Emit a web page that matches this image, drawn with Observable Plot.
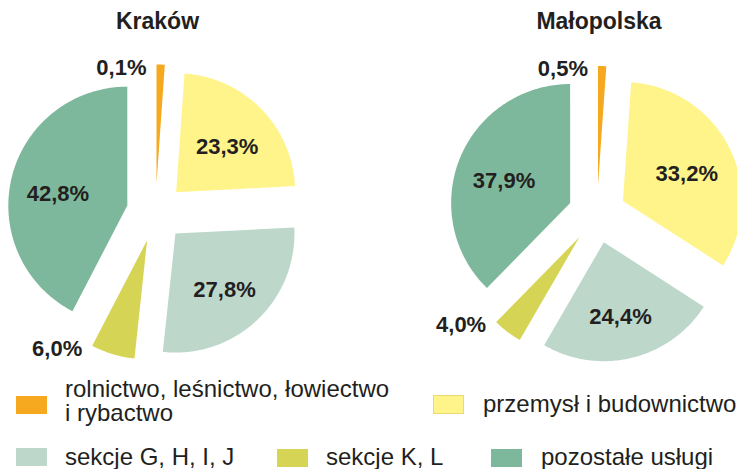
<!DOCTYPE html>
<html><head><meta charset="utf-8">
<script src="https://cdn.jsdelivr.net/npm/d3@7"></script>
<script src="https://cdn.jsdelivr.net/npm/@observablehq/plot@0.6"></script>
<style>
body{margin:0;background:#fff;font-family:"Liberation Sans",Arial,sans-serif;color:#231f20;}
#chart{width:737px;height:370px}
#legend{position:relative;width:737px;height:99px;font-size:24px;}
.sw{position:absolute;width:31px;height:18px;box-sizing:border-box}
.lt{position:absolute;line-height:24px;white-space:pre}
</style></head><body>
<div id="chart"></div>
<div id="legend"></div>
<script>
// ---- data ----
const regions = ["Kraków", "Małopolska"];
const categories = [
  "rolnictwo, leśnictwo, łowiectwo i rybactwo",
  "przemysł i budownictwo",
  "sekcje G, H, I, J",
  "sekcje K, L",
  "pozostałe usługi"
];
const legendLabels = [
  "rolnictwo, leśnictwo, łowiectwo\ni rybactwo",
  "przemysł i budownictwo",
  "sekcje G, H, I, J",
  "sekcje K, L",
  "pozostałe usługi"
];
const krakow = [0.1, 23.3, 27.8, 6.0, 42.8];
const malopolska = [0.5, 33.2, 24.4, 4.0, 37.9];
const colors = ["#f6a81e", "#fff48a", "#bdd7cb", "#d6d455", "#7eb89c"];

// ---- layout / style ----
const W = 737, H = 370;
const pieCenters = [[155, 212], [596.5, 213.5]];
const R = 119, EXPLODE = 29, MIN_ANGLE = 4 * Math.PI / 180, LABEL_R = 0.6 * R;
const titleY = 21;
const textColor = "#231f20";
const font = "Liberation Sans, Arial, Helvetica, sans-serif";

const series = [krakow, malopolska];
const rows = [], inLabels = [], outLabels = [], titles = [];
const fmt = v => v.toFixed(1).replace(".", ",") + "%";
const u = a => [Math.sin(a), -Math.cos(a)];

series.forEach((vals, r) => {
  const [cx, cy] = pieCenters[r];
  const total = d3.sum(vals);
  const raw = vals.map(v => v / total * 2 * Math.PI);
  const isSmall = raw.map(a => a < MIN_ANGLE);
  const fixed = d3.sum(raw, (a, i) => isSmall[i] ? MIN_ANGLE : 0);
  const restRaw = d3.sum(raw, (a, i) => isSmall[i] ? 0 : a);
  const ang = raw.map((a, i) => isSmall[i] ? MIN_ANGLE : a * (2 * Math.PI - fixed) / restRaw);
  let a0 = 0;
  vals.forEach((v, i) => {
    const a1 = a0 + ang[i];
    const mid = (a0 + a1) / 2;
    const [ux, uy] = u(mid);
    const vx = cx + EXPLODE * ux, vy = cy + EXPLODE * uy;
    const id = r + "-" + i;
    rows.push({id, cat: categories[i], x: vx, y: vy});
    const n = Math.max(2, Math.ceil((a1 - a0) / (Math.PI / 180)));
    for (let k = 0; k <= n; k++) {
      const a = a0 + (a1 - a0) * k / n;
      const [px, py] = u(a);
      rows.push({id, cat: categories[i], x: vx + R * px, y: vy + R * py});
    }
    if (v / total >= 0.1) {
      inLabels.push({x: vx + LABEL_R * ux, y: vy + LABEL_R * uy, text: fmt(v)});
    } else {
      // outside, to the left of the slice's left-most outer corner
      const c0 = u(a0), c1 = u(a1);
      const [px, py] = c0[0] < c1[0] ? c0 : c1;
      outLabels.push({x: vx + R * px, y: vy + R * py, text: fmt(v)});
    }
    a0 = a1;
  });
  titles.push({x: cx + 2, y: titleY, text: regions[r]});
});

const chart = Plot.plot({
  width: W, height: H,
  margin: 0,
  x: {domain: [0, W], range: [0, W], axis: null},
  y: {domain: [0, H], range: [0, H], axis: null},
  color: {domain: categories, range: colors},
  style: {fontFamily: font, background: "#fff"},
  marks: [
    Plot.line(rows, {x: "x", y: "y", z: "id", fill: "cat", stroke: "none", curve: "linear-closed"}),
    Plot.text(inLabels, {x: "x", y: "y", text: "text", fontSize: 22, fontWeight: "bold", fill: textColor, dy: 5}),
    Plot.text(outLabels, {x: "x", y: "y", text: "text", fontSize: 22, fontWeight: "bold", fill: textColor, textAnchor: "end", dx: -10, dy: 3}),
    Plot.text(titles, {x: "x", y: "y", text: "text", fontSize: 23, fontWeight: "bold", fill: textColor})
  ]
});
document.getElementById("chart").appendChild(chart);

// ---- legend ----
const legendPos = [
  {sx: 16, sy: 26, tx: 65, ty: 7},
  {sx: 433, sy: 25, tx: 483, ty: 22},
  {sx: 16, sy: 78, tx: 65, ty: 75},
  {sx: 277, sy: 79, tx: 326, ty: 75},
  {sx: 491, sy: 79, tx: 541, ty: 75}
];
const lg = document.getElementById("legend");
categories.forEach((c, i) => {
  const p = legendPos[i];
  const s = document.createElement("div");
  s.className = "sw";
  s.style.left = p.sx + "px"; s.style.top = p.sy + "px";
  s.style.background = colors[i];
  if (i === 1) { s.style.border = "1px solid #e8dc70"; s.style.height = "19px"; }
  lg.appendChild(s);
  const t = document.createElement("div");
  t.className = "lt";
  t.style.left = p.tx + "px"; t.style.top = p.ty + "px";
  t.textContent = legendLabels[i];
  lg.appendChild(t);
});
</script>
</body></html>
